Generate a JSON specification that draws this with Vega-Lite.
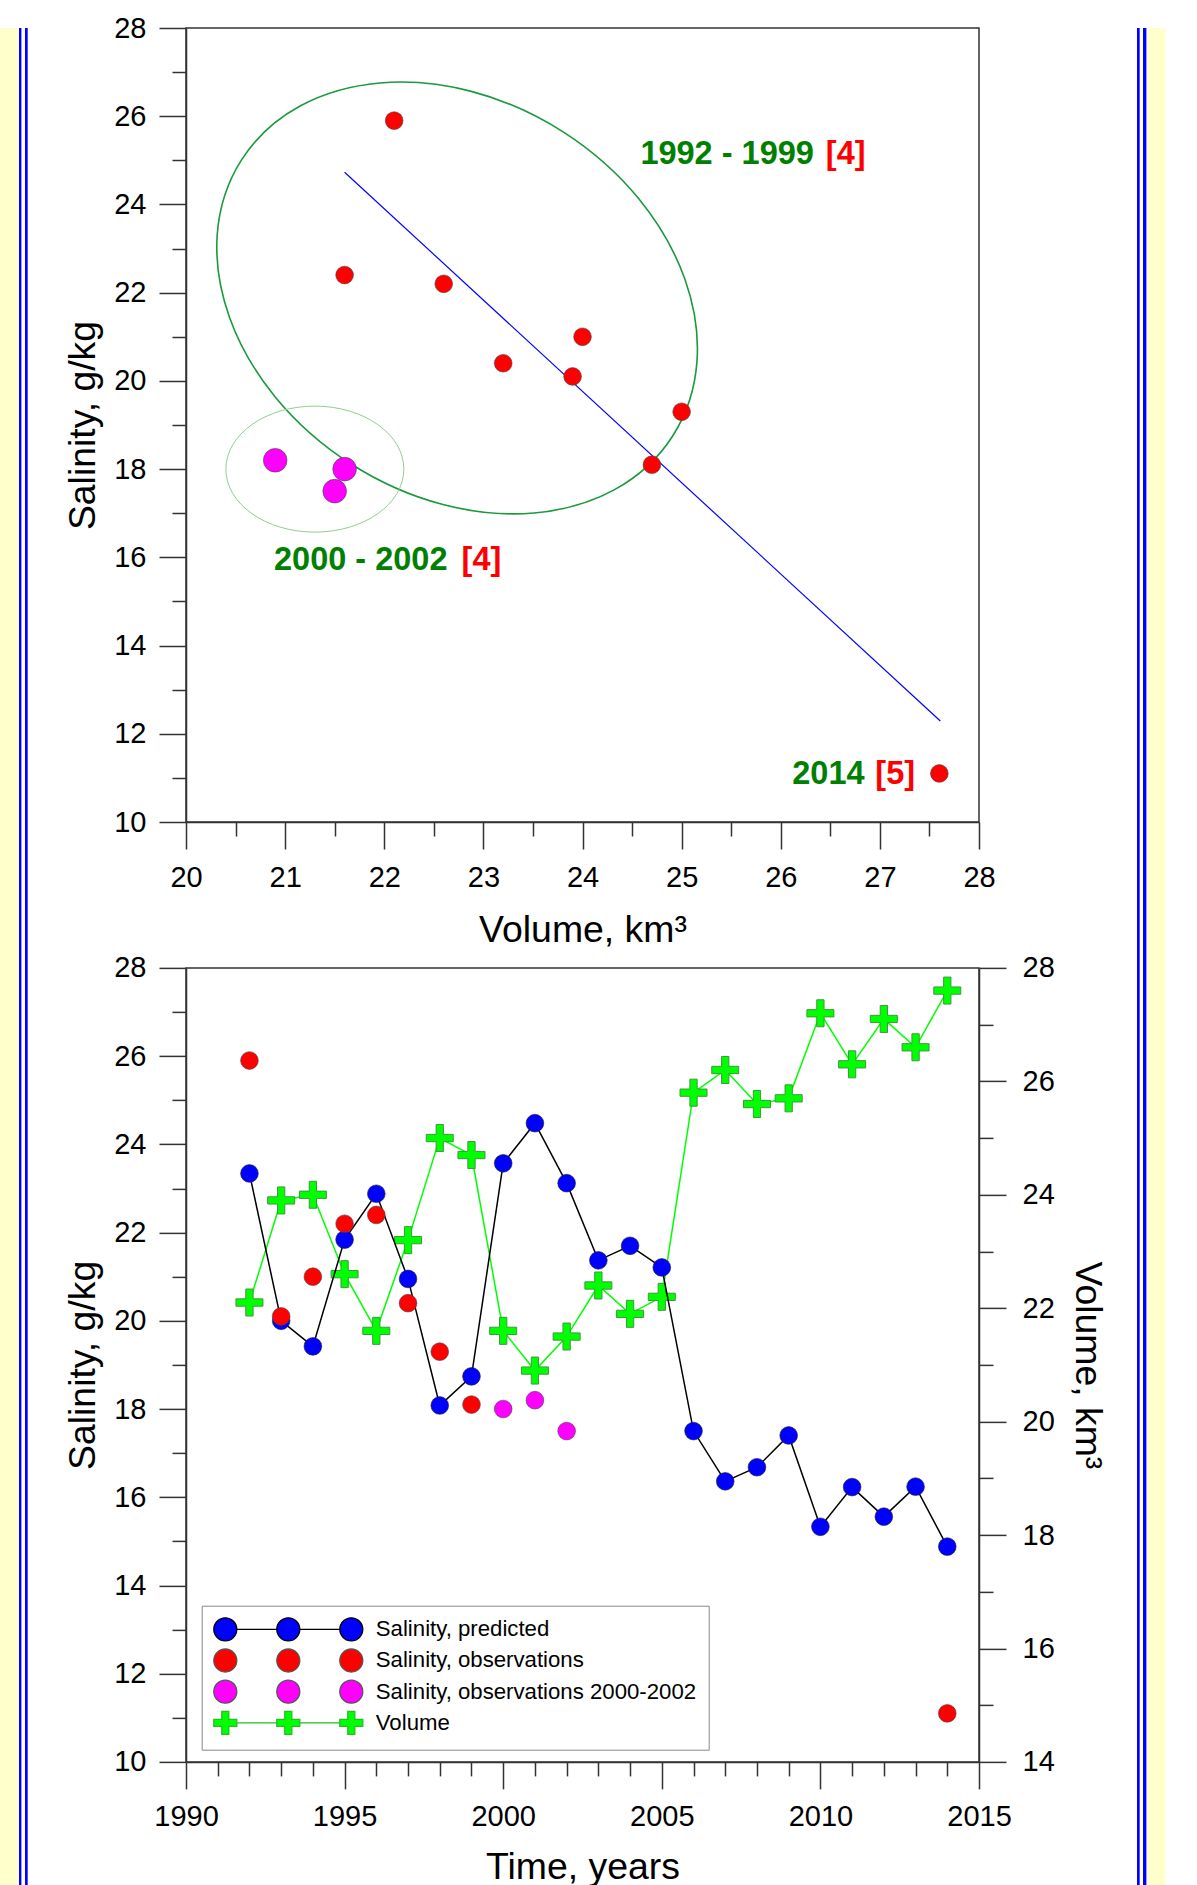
{
  "$schema": "https://vega.github.io/schema/vega-lite/v6.json",
  "background": "white",
  "padding": 0,
  "spacing": 0,
  "config": {
    "font": "Liberation Sans",
    "view": {"stroke": "#333333", "strokeWidth": 1.5},
    "axis": {"grid": false, "domainColor": "#333333", "domainWidth": 1.5, "tickColor": "#333333", "tickWidth": 1.5, "labelFont": "Liberation Sans", "labelFontSize": 29, "labelColor": "#000000", "titleFont": "Liberation Sans", "titleFontSize": 37.4, "titleFontWeight": "normal", "titleColor": "#000000", "labelOverlap": false, "labelFlush": false},
    "legend": {
      "orient": "none", "legendX": 15.7, "legendY": 637.8, "title": null,
      "labelFont": "Liberation Sans", "labelFontSize": 22.2, "labelColor": "#000000", "labelLimit": 0,
      "symbolSize": 4, "symbolStrokeWidth": 1.3, "labelOffset": 139.4, "rowPadding": 2.2, "padding": 12.5,
      "strokeColor": "#888888", "fillColor": "#FFFFFF"
    }
  },
  "datasets": {
    "obs": [
      {"year": 1992, "volume": 22.1, "salinity": 25.9, "series": "Salinity, observations"},
      {"year": 1993, "volume": 23.9, "salinity": 20.1, "series": "Salinity, observations"},
      {"year": 1994, "volume": 24.0, "salinity": 21.0, "series": "Salinity, observations"},
      {"year": 1995, "volume": 22.6, "salinity": 22.2, "series": "Salinity, observations"},
      {"year": 1996, "volume": 21.6, "salinity": 22.4, "series": "Salinity, observations"},
      {"year": 1997, "volume": 23.2, "salinity": 20.4, "series": "Salinity, observations"},
      {"year": 1998, "volume": 25.0, "salinity": 19.3, "series": "Salinity, observations"},
      {"year": 1999, "volume": 24.7, "salinity": 18.1, "series": "Salinity, observations"},
      {"year": 2000, "volume": 21.6, "salinity": 18.0, "series": "Salinity, observations 2000-2002"},
      {"year": 2001, "volume": 20.9, "salinity": 18.2, "series": "Salinity, observations 2000-2002"},
      {"year": 2002, "volume": 21.5, "salinity": 17.5, "series": "Salinity, observations 2000-2002"},
      {"year": 2014, "volume": 27.6, "salinity": 11.1, "series": "Salinity, observations"}
    ],
    "pred": [
      {"year": 1992, "salinity": 23.34, "series": "Salinity, predicted"},
      {"year": 1993, "salinity": 20.0, "series": "Salinity, predicted"},
      {"year": 1994, "salinity": 19.42, "series": "Salinity, predicted"},
      {"year": 1995, "salinity": 21.84, "series": "Salinity, predicted"},
      {"year": 1996, "salinity": 22.88, "series": "Salinity, predicted"},
      {"year": 1997, "salinity": 20.95, "series": "Salinity, predicted"},
      {"year": 1998, "salinity": 18.08, "series": "Salinity, predicted"},
      {"year": 1999, "salinity": 18.74, "series": "Salinity, predicted"},
      {"year": 2000, "salinity": 23.57, "series": "Salinity, predicted"},
      {"year": 2001, "salinity": 24.48, "series": "Salinity, predicted"},
      {"year": 2002, "salinity": 23.12, "series": "Salinity, predicted"},
      {"year": 2003, "salinity": 21.37, "series": "Salinity, predicted"},
      {"year": 2004, "salinity": 21.7, "series": "Salinity, predicted"},
      {"year": 2005, "salinity": 21.21, "series": "Salinity, predicted"},
      {"year": 2006, "salinity": 17.5, "series": "Salinity, predicted"},
      {"year": 2007, "salinity": 16.36, "series": "Salinity, predicted"},
      {"year": 2008, "salinity": 16.68, "series": "Salinity, predicted"},
      {"year": 2009, "salinity": 17.4, "series": "Salinity, predicted"},
      {"year": 2010, "salinity": 15.33, "series": "Salinity, predicted"},
      {"year": 2011, "salinity": 16.23, "series": "Salinity, predicted"},
      {"year": 2012, "salinity": 15.56, "series": "Salinity, predicted"},
      {"year": 2013, "salinity": 16.24, "series": "Salinity, predicted"},
      {"year": 2014, "salinity": 14.88, "series": "Salinity, predicted"}
    ],
    "vol": [
      {"year": 1992, "volume": 22.1, "series": "Volume"},
      {"year": 1993, "volume": 23.9, "series": "Volume"},
      {"year": 1994, "volume": 24.0, "series": "Volume"},
      {"year": 1995, "volume": 22.6, "series": "Volume"},
      {"year": 1996, "volume": 21.6, "series": "Volume"},
      {"year": 1997, "volume": 23.2, "series": "Volume"},
      {"year": 1998, "volume": 25.0, "series": "Volume"},
      {"year": 1999, "volume": 24.7, "series": "Volume"},
      {"year": 2000, "volume": 21.6, "series": "Volume"},
      {"year": 2001, "volume": 20.9, "series": "Volume"},
      {"year": 2002, "volume": 21.5, "series": "Volume"},
      {"year": 2003, "volume": 22.4, "series": "Volume"},
      {"year": 2004, "volume": 21.9, "series": "Volume"},
      {"year": 2005, "volume": 22.2, "series": "Volume"},
      {"year": 2006, "volume": 25.8, "series": "Volume"},
      {"year": 2007, "volume": 26.2, "series": "Volume"},
      {"year": 2008, "volume": 25.6, "series": "Volume"},
      {"year": 2009, "volume": 25.7, "series": "Volume"},
      {"year": 2010, "volume": 27.2, "series": "Volume"},
      {"year": 2011, "volume": 26.3, "series": "Volume"},
      {"year": 2012, "volume": 27.1, "series": "Volume"},
      {"year": 2013, "volume": 26.6, "series": "Volume"},
      {"year": 2014, "volume": 27.6, "series": "Volume"}
    ],
    "regression": [
      {"volume": 21.6, "salinity": 24.73},
      {"volume": 27.61, "salinity": 12.29}
    ],
    "annot": [
      {"volume": 24.584, "salinity": 25.14, "text": "1992 - 1999", "part": "period"},
      {"volume": 26.455, "salinity": 25.14, "text": "[4]", "part": "ref"},
      {"volume": 20.888, "salinity": 15.935, "text": "2000 - 2002", "part": "period"},
      {"volume": 22.78, "salinity": 15.935, "text": "[4]", "part": "ref"},
      {"volume": 26.116, "salinity": 11.095, "text": "2014", "part": "period"},
      {"volume": 26.954, "salinity": 11.095, "text": "[5]", "part": "ref"}
    ]
  },
  "hconcat": [
    {"width": 18.3, "height": 1885, "view": {"fill": "#FFFFCC", "stroke": null}, "data": {"values": []}, "mark": "rect", "encoding": {}},
    {"width": 2.4, "height": 1885, "view": {"fill": "#0000FF", "stroke": null}, "data": {"values": []}, "mark": "rect", "encoding": {}},
    {"width": 2.6, "height": 1885, "view": {"fill": "#FFFFFF", "stroke": null}, "data": {"values": []}, "mark": "rect", "encoding": {}},
    {"width": 2.7, "height": 1885, "view": {"fill": "#0000FF", "stroke": null}, "data": {"values": []}, "mark": "rect", "encoding": {}},
    {"width": 34.1, "height": 10, "view": {"fill": null, "stroke": null}, "data": {"values": []}, "mark": "rect", "encoding": {}},
    {
      "spacing": 2.9,
      "resolve": {"legend": {"color": "independent", "shape": "independent", "stroke": "independent"}, "scale": {"color": "independent", "shape": "independent", "stroke": "independent"}},
      "vconcat": [
        {
          "width": 793,
          "height": 794,
          "title": {"text": " ", "fontSize": 12, "offset": 0},
          "layer": [
            {
              "data": {"values": [{"volume": 22.735, "salinity": 21.88}]},
              "mark": {"type": "point", "shape": "M 215.4 138.3 A 256 197 32.7 0 1 -106.4 165.8 A 256 197 32.7 0 1 -215.4 -138.3 A 256 197 32.7 0 1 106.4 -165.8 A 256 197 32.7 0 1 215.4 138.3 Z", "size": 4, "filled": false, "color": "#1a9a3c", "strokeWidth": 1.6, "opacity": 1},
              "encoding": {
                "x": {"field": "volume", "type": "quantitative", "scale": {"domain": [20, 28], "nice": false, "zero": false}, "axis": null},
                "y": {"field": "salinity", "type": "quantitative", "scale": {"domain": [10, 28], "nice": false, "zero": false}, "axis": null}
              }
            },
            {
              "data": {"values": [{"volume": 21.3, "salinity": 18.0}]},
              "mark": {"type": "point", "shape": "M 89 0 A 89 63 0 0 1 0 63 A 89 63 0 0 1 -89 0 A 89 63 0 0 1 0 -63 A 89 63 0 0 1 89 0 Z", "size": 4, "filled": false, "color": "#8fcf8f", "strokeWidth": 1, "opacity": 1},
              "encoding": {
                "x": {"field": "volume", "type": "quantitative", "axis": null},
                "y": {"field": "salinity", "type": "quantitative", "axis": null}
              }
            },
            {
              "data": {"name": "regression"},
              "mark": {"type": "line", "color": "#0000FF", "strokeWidth": 1.2},
              "encoding": {
                "x": {"field": "volume", "type": "quantitative", "axis": {"orient": "bottom", "values": [20, 21, 22, 23, 24, 25, 26, 27, 28], "format": "d", "tickSize": 27, "labelPadding": 14, "title": "Volume, km³", "titlePadding": 19.2}},
                "y": {"field": "salinity", "type": "quantitative", "axis": {"orient": "left", "values": [10, 12, 14, 16, 18, 20, 22, 24, 26, 28], "format": "d", "tickSize": 27, "labelPadding": 13, "title": "Salinity, g/kg", "titlePadding": 11}}
              }
            },
            {
              "data": {"name": "obs"},
              "transform": [{"filter": "datum.series === 'Salinity, observations'"}],
              "mark": {"type": "point", "shape": "circle", "size": 314, "filled": true, "color": "#FF0000", "stroke": "#444444", "strokeWidth": 0.6, "opacity": 1},
              "encoding": {
                "x": {"field": "volume", "type": "quantitative", "axis": {"orient": "bottom", "values": [20.5, 21.5, 22.5, 23.5, 24.5, 25.5, 26.5, 27.5], "tickSize": 14, "labels": false, "domain": false, "title": null}},
                "y": {"field": "salinity", "type": "quantitative", "axis": {"orient": "left", "values": [11, 13, 15, 17, 19, 21, 23, 25, 27], "tickSize": 14, "labels": false, "domain": false, "title": null}}
              }
            },
            {
              "data": {"name": "obs"},
              "transform": [{"filter": "datum.series === 'Salinity, observations 2000-2002'"}],
              "mark": {"type": "point", "shape": "circle", "size": 558, "filled": true, "color": "#FF00FF", "stroke": "#444444", "strokeWidth": 0.6, "opacity": 1},
              "encoding": {
                "x": {"field": "volume", "type": "quantitative", "axis": null},
                "y": {"field": "salinity", "type": "quantitative", "axis": null}
              }
            },
            {
              "data": {"name": "annot"},
              "transform": [{"filter": "datum.part === 'period'"}],
              "mark": {"type": "text", "align": "left", "baseline": "middle", "font": "Liberation Sans", "fontSize": 32.5, "fontWeight": "bold", "color": "#008000"},
              "encoding": {
                "x": {"field": "volume", "type": "quantitative", "axis": null},
                "y": {"field": "salinity", "type": "quantitative", "axis": null},
                "text": {"field": "text"}
              }
            },
            {
              "data": {"name": "annot"},
              "transform": [{"filter": "datum.part === 'ref'"}],
              "mark": {"type": "text", "align": "left", "baseline": "middle", "font": "Liberation Sans", "fontSize": 32.5, "fontWeight": "bold", "color": "#FF0000"},
              "encoding": {
                "x": {"field": "volume", "type": "quantitative", "axis": null},
                "y": {"field": "salinity", "type": "quantitative", "axis": null},
                "text": {"field": "text"}
              }
            }
          ],
          "resolve": {"axis": {"x": "independent", "y": "independent"}}
        },
        {
          "width": 793,
          "height": 794,
          "layer": [
            {
              "data": {"name": "vol"},
              "layer": [
                {
                  "mark": {"type": "line", "color": "#00FF00", "strokeWidth": 1.5},
                  "encoding": {
                    "x": {"field": "year", "type": "quantitative", "scale": {"domain": [1990, 2015], "nice": false, "zero": false}, "axis": null},
                    "y": {"field": "volume", "type": "quantitative", "scale": {"domain": [14, 28], "nice": false, "zero": false}, "axis": {"orient": "right", "values": [14, 16, 18, 20, 22, 24, 26, 28], "format": "d", "tickSize": 27, "labelPadding": 16, "title": "Volume, km³", "titlePadding": 13.4}}
                  }
                },
                {
                  "mark": {"type": "point", "shape": "M -1 -0.27 H -0.27 V -1 H 0.27 V -0.27 H 1 V 0.27 H 0.27 V 1 H -0.27 V 0.27 H -1 Z", "size": 729, "filled": true, "color": "#00FF00", "stroke": "#3c9a3c", "strokeWidth": 1, "opacity": 1},
                  "encoding": {
                    "x": {"field": "year", "type": "quantitative", "axis": null},
                    "y": {"field": "volume", "type": "quantitative", "axis": {"orient": "right", "values": [15, 17, 19, 21, 23, 25, 27], "tickSize": 14, "labels": false, "domain": false, "title": null}}
                  }
                }
              ],
              "resolve": {"axis": {"y": "independent"}}
            },
            {
              "layer": [
                {
                  "data": {"name": "pred"},
                  "mark": {"type": "line", "color": "#000000", "strokeWidth": 1.5},
                  "encoding": {
                    "x": {"field": "year", "type": "quantitative", "axis": {"orient": "bottom", "values": [1990, 1995, 2000, 2005, 2010, 2015], "format": "d", "tickSize": 27, "labelPadding": 14, "title": "Time, years", "titlePadding": 16.9}},
                    "y": {"field": "salinity", "type": "quantitative", "scale": {"domain": [10, 28], "nice": false, "zero": false}, "axis": {"orient": "left", "values": [10, 12, 14, 16, 18, 20, 22, 24, 26, 28], "format": "d", "tickSize": 27, "labelPadding": 13, "title": "Salinity, g/kg", "titlePadding": 11}}
                  }
                },
                {
                  "data": {"name": "pred"},
                  "mark": {"type": "point", "shape": "circle", "size": 314, "filled": true, "color": "#0000FF", "stroke": "#222222", "strokeWidth": 0.6, "opacity": 1},
                  "encoding": {
                    "x": {"field": "year", "type": "quantitative", "axis": {"orient": "bottom", "values": [1991, 1992, 1993, 1994, 1996, 1997, 1998, 1999, 2001, 2002, 2003, 2004, 2006, 2007, 2008, 2009, 2011, 2012, 2013, 2014], "tickSize": 14, "labels": false, "domain": false, "title": null}},
                    "y": {"field": "salinity", "type": "quantitative", "axis": {"orient": "left", "values": [11, 13, 15, 17, 19, 21, 23, 25, 27], "tickSize": 14, "labels": false, "domain": false, "title": null}}
                  }
                },
                {
                  "data": {"name": "obs"},
                  "transform": [{"filter": "datum.series === 'Salinity, observations'"}],
                  "mark": {"type": "point", "shape": "circle", "size": 314, "filled": true, "color": "#FF0000", "stroke": "#444444", "strokeWidth": 0.6, "opacity": 1},
                  "encoding": {
                    "x": {"field": "year", "type": "quantitative", "axis": null},
                    "y": {"field": "salinity", "type": "quantitative", "axis": null}
                  }
                },
                {
                  "data": {"name": "obs"},
                  "transform": [{"filter": "datum.series === 'Salinity, observations 2000-2002'"}],
                  "mark": {"type": "point", "shape": "circle", "size": 314, "filled": true, "color": "#FF00FF", "stroke": "#444444", "strokeWidth": 0.6, "opacity": 1},
                  "encoding": {
                    "x": {"field": "year", "type": "quantitative", "axis": null},
                    "y": {"field": "salinity", "type": "quantitative", "axis": null}
                  }
                },
                {
                  "data": {"name": "pred"},
                  "transform": [{"filter": "false"}],
                  "mark": {"type": "point", "filled": true, "strokeWidth": 1.3, "opacity": 1},
                  "encoding": {
                    "x": {"field": "year", "type": "quantitative", "axis": null},
                    "y": {"field": "salinity", "type": "quantitative", "axis": null},
                    "color": {"field": "series", "type": "nominal", "scale": {"domain": ["Salinity, predicted", "Salinity, observations", "Salinity, observations 2000-2002", "Volume"], "range": ["#0000FF", "#FF0000", "#FF00FF", "#00FF00"]}},
                    "shape": {"field": "series", "type": "nominal", "scale": {"domain": ["Salinity, predicted", "Salinity, observations", "Salinity, observations 2000-2002", "Volume"], "range": [
                      "M -11.5 0 A 11.5 11.5 0 1 0 11.5 0 A 11.5 11.5 0 1 0 -11.5 0 Z M 51.5 0 A 11.5 11.5 0 1 0 74.5 0 A 11.5 11.5 0 1 0 51.5 0 Z M 114.5 0 A 11.5 11.5 0 1 0 137.5 0 A 11.5 11.5 0 1 0 114.5 0 Z M 11.5 0 L 51.5 0 M 74.5 0 L 114.5 0",
                      "M -11.5 0 A 11.5 11.5 0 1 0 11.5 0 A 11.5 11.5 0 1 0 -11.5 0 Z M 51.5 0 A 11.5 11.5 0 1 0 74.5 0 A 11.5 11.5 0 1 0 51.5 0 Z M 114.5 0 A 11.5 11.5 0 1 0 137.5 0 A 11.5 11.5 0 1 0 114.5 0 Z",
                      "M -11.5 0 A 11.5 11.5 0 1 0 11.5 0 A 11.5 11.5 0 1 0 -11.5 0 Z M 51.5 0 A 11.5 11.5 0 1 0 74.5 0 A 11.5 11.5 0 1 0 51.5 0 Z M 114.5 0 A 11.5 11.5 0 1 0 137.5 0 A 11.5 11.5 0 1 0 114.5 0 Z",
                      "M -11.5 -3.5 H -3.5 V -11.5 H 3.5 V -3.5 H 11.5 V 3.5 H 3.5 V 11.5 H -3.5 V 3.5 H -11.5 Z M 51.5 -3.5 H 59.5 V -11.5 H 66.5 V -3.5 H 74.5 V 3.5 H 66.5 V 11.5 H 59.5 V 3.5 H 51.5 Z M 114.5 -3.5 H 122.5 V -11.5 H 129.5 V -3.5 H 137.5 V 3.5 H 129.5 V 11.5 H 122.5 V 3.5 H 114.5 Z M 11.5 0 L 51.5 0 M 74.5 0 L 114.5 0"
                    ]}},
                    "stroke": {"field": "series", "type": "nominal", "scale": {"domain": ["Salinity, predicted", "Salinity, observations", "Salinity, observations 2000-2002", "Volume"], "range": ["#000000", "#555555", "#555555", "#22c022"]}}
                  }
                }
              ],
              "resolve": {"axis": {"x": "independent", "y": "independent"}}
            }
          ],
          "resolve": {"scale": {"y": "independent"}, "axis": {"y": "independent"}}
        }
      ]
    },
    {"width": 29.6, "height": 10, "view": {"fill": null, "stroke": null}, "data": {"values": []}, "mark": "rect", "encoding": {}},
    {"width": 2.7, "height": 1885, "view": {"fill": "#0000FF", "stroke": null}, "data": {"values": []}, "mark": "rect", "encoding": {}},
    {"width": 2.3, "height": 1885, "view": {"fill": "#FFFFFF", "stroke": null}, "data": {"values": []}, "mark": "rect", "encoding": {}},
    {"width": 3.4, "height": 1885, "view": {"fill": "#0000FF", "stroke": null}, "data": {"values": []}, "mark": "rect", "encoding": {}},
    {"width": 18.5, "height": 1885, "view": {"fill": "#FFFFCC", "stroke": null}, "data": {"values": []}, "mark": "rect", "encoding": {}}
  ]
}
